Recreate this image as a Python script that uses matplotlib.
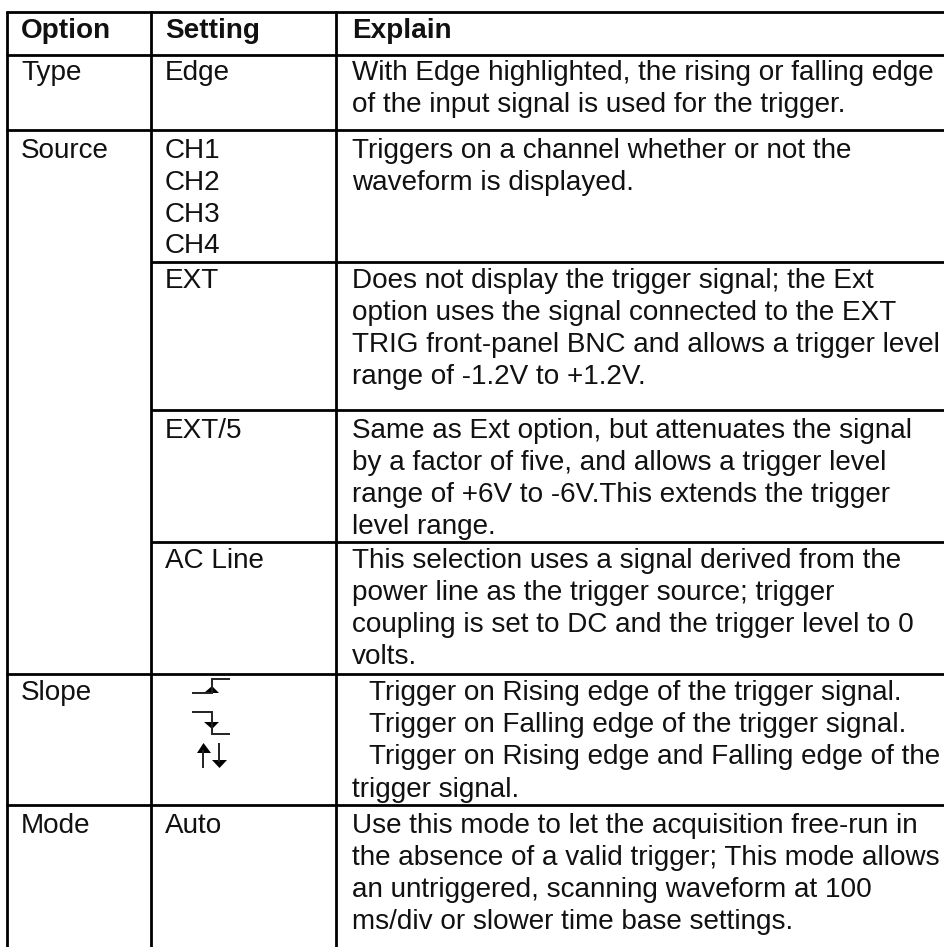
import matplotlib
matplotlib.use("Agg")
import matplotlib.pyplot as plt
from matplotlib.patches import Polygon

plt.rcParams['font.family'] = ['Liberation Sans', 'DejaVu Sans']

headers = ["Option", "Setting", "Explain"]
options = ["Type", "Source", "Slope", "Mode"]
settings = ["Edge", "CH1", "CH2", "CH3", "CH4", "EXT", "EXT/5", "AC Line", "Auto"]
explain_type = ["With Edge highlighted, the rising or falling edge",
                "of the input signal is used for the trigger."]
explain_ch = ["Triggers on a channel whether or not the",
              "waveform is displayed."]
explain_ext = ["Does not display the trigger signal; the Ext",
               "option uses the signal connected to the EXT",
               "TRIG front-panel BNC and allows a trigger level",
               "range of -1.2V to +1.2V."]
explain_ext5 = ["Same as Ext option, but attenuates the signal",
                "by a factor of five, and allows a trigger level",
                "range of +6V to -6V.This extends the trigger",
                "level range."]
explain_ac = ["This selection uses a signal derived from the",
              "power line as the trigger source; trigger",
              "coupling is set to DC and the trigger level to 0",
              "volts."]
explain_slope_indented = ["Trigger on Rising edge of the trigger signal.",
                          "Trigger on Falling edge of the trigger signal.",
                          "Trigger on Rising edge and Falling edge of the"]
explain_slope_last = ["trigger signal."]
explain_mode = ["Use this mode to let the acquisition free-run in",
                "the absence of a valid trigger; This mode allows",
                "an untriggered, scanning waveform at 100",
                "ms/div or slower time base settings."]

W, H = 944, 947
fig = plt.figure(figsize=(W / 100, H / 100), dpi=100, facecolor="white")
ax = fig.add_axes([0, 0, 1, 1])
ax.set_xlim(0, W)
ax.set_ylim(H, 0)
ax.axis("off")

LW = 2.0
FS = 20.1
TC = "#111111"
X1, X2, X3 = 7, 150.5, 336
ln = dict(color="black", lw=LW, solid_capstyle="butt")

# full-width rules
for y in (11.5, 54.5, 130, 674, 805):
    ax.plot([X1 - 1, W], [y, y], **ln)
# rules that stop at the merged Source cell
for y in (262, 410, 542):
    ax.plot([X2, W], [y, y], **ln)
for x in (X1, X2, X3):
    ax.plot([x, x], [10.5, H], **ln)


def put(x, y, s, **kw):
    ax.text(x, y, s, fontsize=FS, color=TC, va="baseline", ha="left", **kw)


XA, XB, XC, XD = 21, 165, 352, 369
for x, s in zip((XA, XB, XC), headers):
    put(x, 38, s, fontweight="bold")

for y, s in zip((80, 158, 700, 833), options):
    put(XA, y, s)
for y, s in zip((80, 158, 190, 222, 253, 288, 438, 568, 833), settings):
    put(XB, y, s)


def block(x, y0, lines):
    for i, s in enumerate(lines):
        put(x, y0 + i * 32, s)


block(XC, 80, explain_type)
block(XC, 158, explain_ch)
block(XC, 288, explain_ext)
block(XC, 438, explain_ext5)
block(XC, 568, explain_ac)
block(XD, 700, explain_slope_indented)
block(XC, 797, explain_slope_last)
block(XC, 833, explain_mode)

# slope symbols
sym = dict(color="#222222", lw=1.4, solid_joinstyle="miter", solid_capstyle="butt")
ax.plot([192, 212, 212, 230], [693, 693, 679, 679], **sym)
ax.add_patch(Polygon([(204, 693), (219, 693), (212, 686)], closed=True, fc="black", ec="none"))
ax.plot([192, 212, 212, 230], [712, 712, 734, 734], **sym)
ax.add_patch(Polygon([(204, 722), (219, 722), (212, 729)], closed=True, fc="black", ec="none"))
ax.plot([203, 203], [750, 768], **sym)
ax.add_patch(Polygon([(197, 753), (211, 753), (203.5, 743)], closed=True, fc="black", ec="none"))
ax.plot([219, 219], [743, 762], **sym)
ax.add_patch(Polygon([(212, 760), (227, 760), (219.5, 768)], closed=True, fc="black", ec="none"))

fig.savefig("out.png", dpi=100, facecolor="white")
